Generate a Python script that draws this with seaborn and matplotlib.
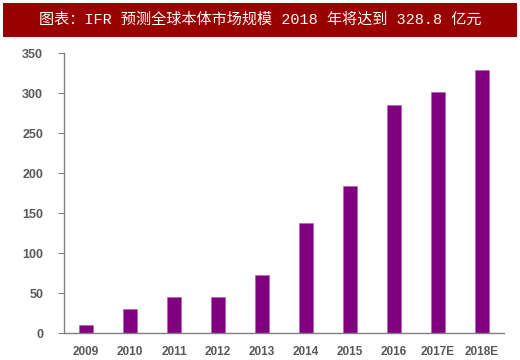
import matplotlib
matplotlib.use("Agg")
import matplotlib.pyplot as plt
import seaborn as sns
import pandas as pd
from matplotlib.patches import Rectangle

years = ["2009", "2010", "2011", "2012", "2013", "2014", "2015", "2016", "2017E", "2018E"]
values = [11, 30, 45, 46, 73, 138, 184, 285, 302, 328.8]
yticks = [0, 50, 100, 150, 200, 250, 300, 350]
title = "图表：IFR 预测全球本体市场规模 2018 年将达到 328.8 亿元"

sns.set_theme(style="white")
plt.rcParams['font.family'] = ['Liberation Sans', 'DejaVu Sans']

df = pd.DataFrame({"year": years, "value": values})

fig = plt.figure(figsize=(5.2, 3.6), dpi=100)
ax = fig.add_axes([64/520, (360-333.3)/360, 440/520, 280/360])

sns.barplot(data=df, x="year", y="value", order=years, color="#800080",
            width=0.31, saturation=1, ax=ax, edgecolor="#b060b0", linewidth=0.4)

ax.set_xlim(-0.5, len(years) - 0.5)
ax.set_ylim(0, 350)
ax.set_yticks(yticks)
ax.set_yticklabels([str(v) for v in yticks])
ax.set_xlabel("")
ax.set_ylabel("")

for s in ["top", "right"]:
    ax.spines[s].set_visible(False)
for s in ["left", "bottom"]:
    ax.spines[s].set_color("#808080")
    ax.spines[s].set_linewidth(1.0)

ax.tick_params(axis="y", which="both", left=True, length=4, width=0.8, color="#808080",
               direction="out", pad=11, labelsize=9, labelcolor="#595959")
ax.tick_params(axis="x", which="both", bottom=False, length=0, pad=9,
               labelsize=8.5, labelcolor="#595959")
for lab in ax.get_yticklabels():
    lab.set_fontweight("bold")
for lab in ax.get_xticklabels():
    lab.set_family(["Liberation Sans Narrow", "Liberation Sans", "DejaVu Sans"])
    lab.set_fontweight("bold")

# title banner
fig.patches.append(Rectangle((3/520, 1 - 37/360), 514/520, 34/360,
                             transform=fig.transFigure, facecolor="#990000",
                             edgecolor="none", zorder=0))
fig.text(0.5, 1 - 20/360, title, ha="center", va="center", color="white",
         fontsize=10.9, family=["Liberation Mono", "Noto Sans CJK SC", "DejaVu Sans"])

fig.savefig("out.png", dpi=100, facecolor="white")
